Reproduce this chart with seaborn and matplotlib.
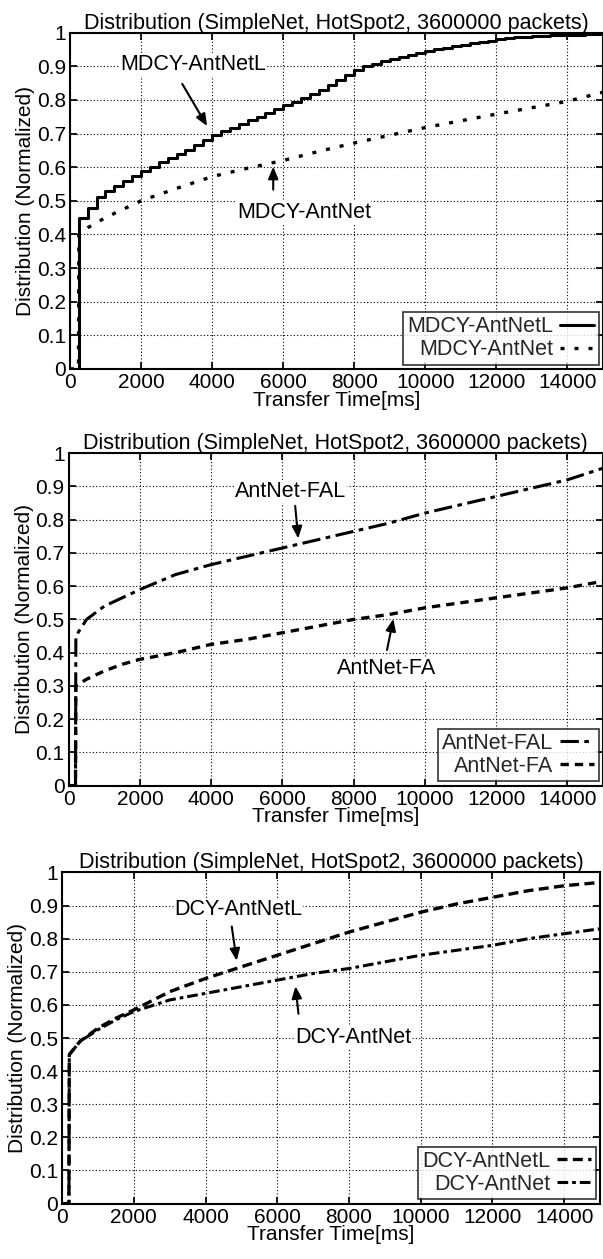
import matplotlib
matplotlib.use('Agg')
import matplotlib.pyplot as plt
import seaborn as sns

# Data
x_step = list(range(0, 15001, 250))
mdcy_antnetl = [0, 0.45, 0.48, 0.51, 0.53, 0.545, 0.56, 0.575, 0.59, 0.602, 0.614,
                0.627, 0.64, 0.652, 0.665, 0.68, 0.695, 0.707, 0.718, 0.728, 0.74,
                0.75, 0.76, 0.772, 0.785, 0.795, 0.807, 0.818, 0.83, 0.845, 0.86,
                0.875, 0.89, 0.9, 0.908, 0.915, 0.922, 0.929, 0.935, 0.941, 0.947,
                0.952, 0.956, 0.96, 0.964, 0.968, 0.972, 0.976, 0.98, 0.983, 0.986,
                0.988, 0.99, 0.991, 0.992, 0.993, 0.994, 0.994, 0.995, 0.995, 0.995]

x_p1 = [0, 240, 250, 500, 1000, 1500, 2000, 3000, 4000, 5000, 6000, 7000, 8000,
        9000, 10000, 11000, 12000, 13000, 14000, 15000]
mdcy_antnet = [0, 0, 0.40, 0.42, 0.45, 0.475, 0.50, 0.537, 0.572, 0.597, 0.62, 0.647,
               0.672, 0.695, 0.718, 0.738, 0.758, 0.777, 0.796, 0.823]

x_p2 = [0, 190, 200, 500, 1000, 1500, 2000, 3000, 4000, 5000, 6000, 7000, 8000,
        9000, 10000, 11000, 12000, 13000, 14000, 15000]
antnet_fal = [0, 0, 0.45, 0.50, 0.54, 0.565, 0.59, 0.635, 0.665, 0.69, 0.715, 0.74,
              0.765, 0.79, 0.82, 0.845, 0.87, 0.895, 0.92, 0.955]
antnet_fa = [0, 0, 0.30, 0.32, 0.345, 0.365, 0.38, 0.40, 0.425, 0.44, 0.46, 0.48,
             0.50, 0.515, 0.535, 0.55, 0.565, 0.58, 0.595, 0.615]

x_p3 = x_p2
dcy_antnetl = [0, 0, 0.45, 0.49, 0.53, 0.56, 0.585, 0.64, 0.68, 0.715, 0.75, 0.785,
               0.82, 0.85, 0.88, 0.905, 0.925, 0.945, 0.96, 0.97]
dcy_antnet = [0, 0, 0.45, 0.49, 0.525, 0.555, 0.58, 0.615, 0.635, 0.655, 0.675, 0.695,
              0.71, 0.73, 0.75, 0.765, 0.78, 0.80, 0.815, 0.83]

x_ticks = list(range(0, 15000, 2000))
y_ticks = [i / 10 for i in range(11)]
y_tick_labels = ["0", "0.1", "0.2", "0.3", "0.4", "0.5", "0.6", "0.7", "0.8", "0.9", "1"]

TITLE = "Distribution (SimpleNet, HotSpot2, 3600000 packets)"

sns.set_theme(style="ticks")
plt.rcParams['font.family'] = ['Liberation Sans', 'DejaVu Sans']

fig = plt.figure(figsize=(6.03, 12.59), dpi=100)

# axes boxes in figure fraction: left, bottom, width, height
boxes = [
    (0.116, 0.707, 0.884, 0.267),
    (0.114, 0.376, 0.886, 0.264),
    (0.103, 0.044, 0.892, 0.263),
]

panels = [
    [("MDCY-AntNetL", x_step, mdcy_antnetl, "-", 2.2, "steps-post"),
     ("MDCY-AntNet", x_p1, mdcy_antnet, (0, (1.2, 3.0)), 2.4, "default")],
    [("AntNet-FAL", x_p2, antnet_fal, (0, (6, 1.8, 1.5, 1.8)), 2.2, "default"),
     ("AntNet-FA", x_p2, antnet_fa, (0, (2.5, 1.8)), 2.4, "default")],
    [("DCY-AntNetL", x_p3, dcy_antnetl, (0, (3, 1.6)), 2.4, "default"),
     ("DCY-AntNet", x_p3, dcy_antnet, (0, (3.5, 1.3, 1.2, 1.3)), 2.2, "default")],
]

# annotation text position and arrow (tail, head) in data coords
notes = [
    [("MDCY-AntNetL", (3470, 0.905), (3120, 0.855), (3900, 0.715)),
     ("MDCY-AntNet", (6580, 0.465), (5720, 0.525), (5720, 0.61))],
    [("AntNet-FAL", (6240, 0.885), (6350, 0.85), (6450, 0.735)),
     ("AntNet-FA", (8930, 0.352), (8920, 0.40), (9130, 0.51))],
    [("DCY-AntNetL", (4920, 0.889), (4720, 0.845), (4880, 0.725)),
     ("DCY-AntNet", (8130, 0.503), (6600, 0.565), (6500, 0.665))],
]

for box, series, note in zip(boxes, panels, notes):
    ax = fig.add_axes(box)
    for name, xs, ys, ls, lw, ds in series:
        sns.lineplot(x=xs, y=ys, ax=ax, color="black", linestyle=ls, linewidth=lw,
                     drawstyle=ds, label=name, estimator=None, sort=False)
    ax.set_xlim(0, 15000)
    ax.set_ylim(0, 1)
    ax.set_xticks(x_ticks)
    ax.set_yticks(y_ticks)
    ax.set_yticklabels(y_tick_labels)
    ax.grid(True, color="black", linestyle=(0, (1, 2)), linewidth=0.8)
    ax.tick_params(direction="in", top=True, right=True, labelsize=15, length=5,
                   color="black", labelcolor="black", pad=3)
    for sp in ax.spines.values():
        sp.set_color("black")
        sp.set_linewidth(1.5)
    ax.set_title(TITLE, fontsize=15.5, color="black", pad=3)
    ax.set_xlabel("Transfer Time[ms]", fontsize=15, color="black", labelpad=-1)
    ax.set_ylabel("Distribution (Normalized)", fontsize=15, color="black", labelpad=1)

    for txt, tpos, tail, head in note:
        ax.annotate("", xy=head, xytext=tail,
                    arrowprops=dict(arrowstyle="-|>,head_length=0.6,head_width=0.25",
                                    color="black", lw=1.5))
        ax.text(tpos[0], tpos[1], txt, ha="center", va="center", fontsize=15.5,
                color="black", bbox=dict(facecolor="white", edgecolor="none", pad=0.5))

    leg = ax.legend(loc="lower right", markerfirst=False, fontsize=15.5, frameon=True,
                    fancybox=False, handlelength=1.6, handletextpad=0.3,
                    borderpad=0.2, labelspacing=0.1, borderaxespad=0.2,
                    alignment="right")
    leg.get_frame().set_edgecolor("black")
    leg.get_frame().set_linewidth(1.2)
    for t in leg.get_texts():
        t.set_ha("right")

fig.savefig("out.png", dpi=100)
